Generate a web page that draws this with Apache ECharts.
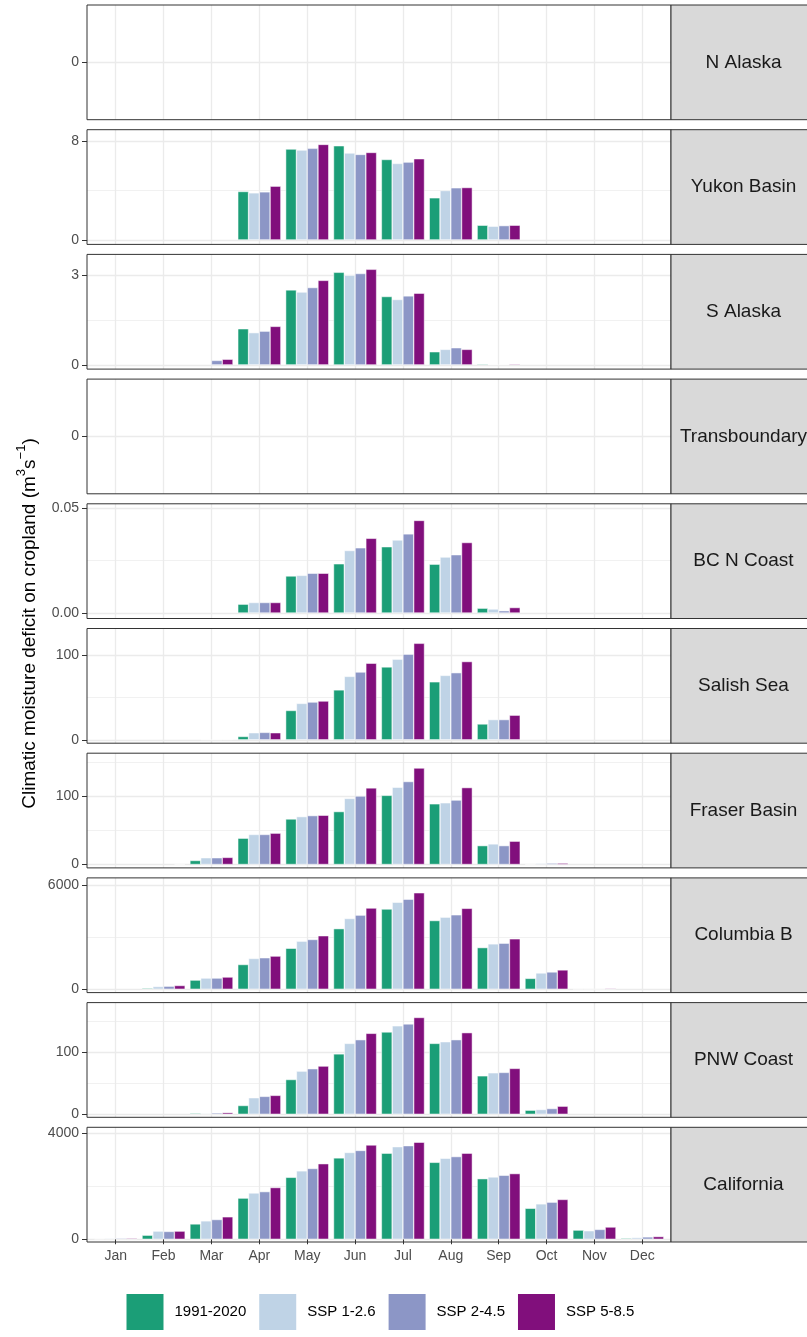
<!DOCTYPE html>
<html>
<head>
<meta charset="utf-8">
<script src="https://cdn.jsdelivr.net/npm/echarts@6/dist/echarts.min.js"></script>
<style>
html,body{margin:0;padding:0;background:#fff;}
#chart{width:807px;height:1337px;}
</style>
</head>
<body>
<div id="chart"></div>
<script>
// ---------------- DATA ----------------
const months = ['Jan','Feb','Mar','Apr','May','Jun','Jul','Aug','Sep','Oct','Nov','Dec'];
const regions = ['N Alaska','Yukon Basin','S Alaska','Transboundary','BC N Coast','Salish Sea','Fraser Basin','Columbia B','PNW Coast','California'];
const scenarios = ['1991-2020','SSP 1-2.6','SSP 2-4.5','SSP 5-8.5'];

// each region: [1991-2020, SSP 1-2.6, SSP 2-4.5, SSP 5-8.5], Jan..Dec
const nAlaska = [
  [0,0,0,0,0,0,0,0,0,0,0,0],
  [0,0,0,0,0,0,0,0,0,0,0,0],
  [0,0,0,0,0,0,0,0,0,0,0,0],
  [0,0,0,0,0,0,0,0,0,0,0,0]
];
const yukonBasin = [
  [0,0,0,3.92,7.35,7.62,6.51,3.41,1.19,0,0,0],
  [0,0,0,3.81,7.27,7.03,6.19,4.00,1.11,0,0,0],
  [0,0,0,3.89,7.41,6.92,6.30,4.22,1.16,0,0,0],
  [0,0,0,4.35,7.73,7.08,6.57,4.24,1.19,0,0,0]
];
const sAlaska = [
  [0,0,0,1.21,2.51,3.10,2.29,0.44,0.03,0,0,0],
  [0,0,0,1.08,2.44,3.00,2.19,0.52,0.01,0,0,0],
  [0,0,0.15,1.13,2.59,3.06,2.31,0.575,0.01,0,0,0],
  [0,0,0.19,1.29,2.83,3.20,2.40,0.52,0.03,0,0,0]
];
const transboundary = [
  [0,0,0,0,0,0,0,0,0,0,0,0],
  [0,0,0,0,0,0,0,0,0,0,0,0],
  [0,0,0,0,0,0,0,0,0,0,0,0],
  [0,0,0,0,0,0,0,0,0,0,0,0]
];
const bcNCoast = [
  [0,0,0,0.0042,0.0176,0.0234,0.0315,0.0232,0.0023,0,0,0],
  [0,0,0,0.0050,0.0179,0.0297,0.0347,0.0266,0.0019,0,0,0],
  [0,0,0,0.0050,0.0189,0.0310,0.0376,0.0277,0.0011,0,0,0],
  [0,0,0,0.0050,0.0189,0.0355,0.0440,0.0335,0.0026,0,0,0]
];
const salishSea = [
  [0,0,0,4,34.8,59.2,86.4,68.8,18.8,0,0,0],
  [0,0,0.2,8.4,43.2,75.2,95.6,76.4,24,0,0,0],
  [0,0,0.2,8.8,44.8,80.4,101.6,79.6,24,0,0,0],
  [0,0,0.5,8.4,46,90.8,114.4,92.8,29.2,0,0,0]
];
const fraserBasin = [
  [0,0,5.9,38.6,66.8,77.7,101.5,89.1,27.7,0.5,0,0],
  [0,0,9.9,44.1,70.3,97.0,113.4,90.6,30.2,1.5,0,0],
  [0,0,9.9,44.1,71.8,100.5,121.8,94.6,27.7,2,0,0],
  [0,0.5,10.4,46.0,72.3,112.4,141.6,112.9,34.2,2,0,0]
];
const columbiaB = [
  [0,59,528,1427,2365,3498,4632,3967,2404,625,15,0],
  [0,156,645,1778,2775,4084,5022,4162,2619,938,10,0],
  [0,176,645,1817,2873,4280,5198,4299,2658,997,10,0],
  [0,215,704,1915,3088,4690,5570,4671,2912,1114,40,0]
];
const pnwCoast = [
  [0,0,1.6,14.2,56.3,97.8,133.3,114.8,62.3,6.6,0,0],
  [0,0,1.1,26.8,69.9,114.8,143.2,117.5,67.2,7.7,0,0],
  [0,0,2.2,29.0,73.8,120.8,146.4,120.8,67.8,9.3,0,0],
  [0,0,2.7,30.6,78.1,131.1,156.8,132.2,74.3,13.1,0,0]
];
const california = [
  [20,154,579,1556,2341,3074,3254,2907,2289,1170,347,39],
  [25,309,695,1749,2585,3280,3498,3061,2354,1338,322,64],
  [35,296,746,1801,2675,3357,3537,3125,2418,1402,373,90],
  [35,309,849,1955,2855,3563,3666,3254,2482,1505,463,103]
];
const regionData = [nAlaska, yukonBasin, sAlaska, transboundary, bcNCoast, salishSea, fraserBasin, columbiaB, pnwCoast, california];

// y-axis limits (value at panel bottom / top) and labelled break above zero
const yMins = [-1, -0.36, -0.14, -1, -0.0026, -4, -5, -195, -4.9, -103];
const yMaxs = [1, 8.92, 3.70, 1, 0.0519, 132, 163.4, 6430, 180.9, 4231];
const yBreaks = [null, 8, 3, null, 0.05, 100, 100, 6000, 100, 4000];
const yDecimals = [0, 0, 0, 0, 2, 0, 0, 0, 0, 0];

// ---------------- STYLE / LAYOUT ----------------
const colors = ['#1B9E77', '#BFD3E6', '#8C96C6', '#810F7C'];
const FONT = 'Liberation Sans, Arial, Helvetica, sans-serif';
const TOP0 = 5, PITCH = 124.7, PANEL_H = 114.7;
const PLOT_L = 87, PLOT_R = 671;
const UNIT = (PLOT_R - PLOT_L) / 12.2;
const GRID_COLOR = '#EBEBEB';

const grids = [], xAxes = [], yAxes = [], series = [], graphics = [];

regions.forEach((name, i) => {
  const top = TOP0 + i * PITCH;
  const yMin = yMins[i], yMax = yMaxs[i];
  const zeroPix = top + PANEL_H * yMax / (yMax - yMin);
  const brk = yBreaks[i];
  const tickVals = brk ? [0, brk] : [0];
  const isLast = i === regions.length - 1;
  const g = grids.length;

  // frame (panel border)
  grids.push({left: PLOT_L, top: top, width: PLOT_R - PLOT_L, height: PANEL_H,
    show: true, borderColor: '#333333', borderWidth: 1, backgroundColor: 'transparent', z: 10});
  xAxes.push({gridIndex: g, type: 'value', show: false, min: 0, max: 1});
  yAxes.push({gridIndex: g, type: 'value', show: false, min: 0, max: 1});

  // horizontal grid lines + y labels (from zero upward)
  grids.push({left: PLOT_L, top: top, width: PLOT_R - PLOT_L, height: zeroPix - top});
  xAxes.push({gridIndex: g + 1, type: 'value', show: false, min: 0, max: 1});
  yAxes.push({gridIndex: g + 1, type: 'value', min: 0, max: yMax, interval: brk || 10,
    axisLine: {show: false},
    axisTick: {show: true, length: 5, customValues: tickVals, lineStyle: {color: '#333333', width: 1}},
    axisLabel: {show: true, customValues: tickVals, margin: 8, color: '#4D4D4D', fontSize: 14, fontFamily: FONT,
      formatter: v => Number(v).toFixed(yDecimals[i])},
    splitLine: {show: true, lineStyle: {color: GRID_COLOR, width: 1.3}},
    minorTick: {show: false, splitNumber: 2},
    minorSplitLine: {show: !!brk, lineStyle: {color: GRID_COLOR, width: 0.7}}
  });

  // bars
  grids.push({left: PLOT_L + 0.1 * UNIT, top: top, width: 12 * UNIT, height: PANEL_H});
  xAxes.push({gridIndex: g + 2, type: 'category', data: months, boundaryGap: true,
    axisLine: {show: false},
    axisTick: {show: isLast, alignWithLabel: true, length: 5, lineStyle: {color: '#333333', width: 1}},
    axisLabel: {show: isLast, margin: 7, color: '#4D4D4D', fontSize: 14, fontFamily: FONT},
    splitLine: {show: true, alignWithLabel: true, lineStyle: {color: GRID_COLOR, width: 1.3}}
  });
  yAxes.push({gridIndex: g + 2, type: 'value', show: false, min: yMin, max: yMax});

  regionData[i].forEach((vals, s) => {
    series.push({type: 'bar', name: scenarios[s], xAxisIndex: g + 2, yAxisIndex: g + 2,
      data: vals.map(v => v === 0 ? {value: 0, itemStyle: {borderWidth: 0, opacity: 0}} : v),
      barGap: '0%', barCategoryGap: '10%', silent: true,
      itemStyle: {color: colors[s], borderColor: '#ffffff', borderWidth: 0.5}});
  });

  // facet strip
  graphics.push({type: 'rect', shape: {x: PLOT_R, y: top, width: 146, height: PANEL_H},
    style: {fill: '#D9D9D9', stroke: '#333333', lineWidth: 1}, z: 20});
  graphics.push({type: 'text', x: 743.5, y: top + PANEL_H / 2, z: 21,
    style: {text: name, fontSize: 19, fontFamily: FONT, fill: '#1A1A1A', align: 'center', verticalAlign: 'middle'}});
});

// y-axis title
graphics.push({type: 'text', x: 27, y: TOP0 + (9 * PITCH + PANEL_H) / 2, rotation: Math.PI / 2, z: 21,
  style: {
    text: '{a|Climatic moisture deficit on cropland (m}{s|3}{a|s}{s|\u22121}{a|)}',
    align: 'center', verticalAlign: 'middle', fill: '#000',
    rich: {
      a: {fontSize: 19, fontFamily: FONT, fill: '#000', lineHeight: 24, verticalAlign: 'bottom'},
      s: {fontSize: 13, fontFamily: FONT, fill: '#000', lineHeight: 13, verticalAlign: 'top'}
    }
  }});

const chart = echarts.init(document.getElementById('chart'), null, {renderer: 'canvas'});
chart.setOption({
  animation: false,
  backgroundColor: '#ffffff',
  grid: grids,
  xAxis: xAxes,
  yAxis: yAxes,
  series: series,
  legend: {data: scenarios, left: 124.5, top: 1292, padding: 0, orient: 'horizontal', icon: 'rect',
    itemWidth: 39, itemHeight: 38, itemGap: 11, selectedMode: false,
    textStyle: {fontSize: 15, color: '#000', fontFamily: FONT, padding: [0, 0, 0, 5]}},
  graphic: graphics
});
</script>
</body>
</html>
